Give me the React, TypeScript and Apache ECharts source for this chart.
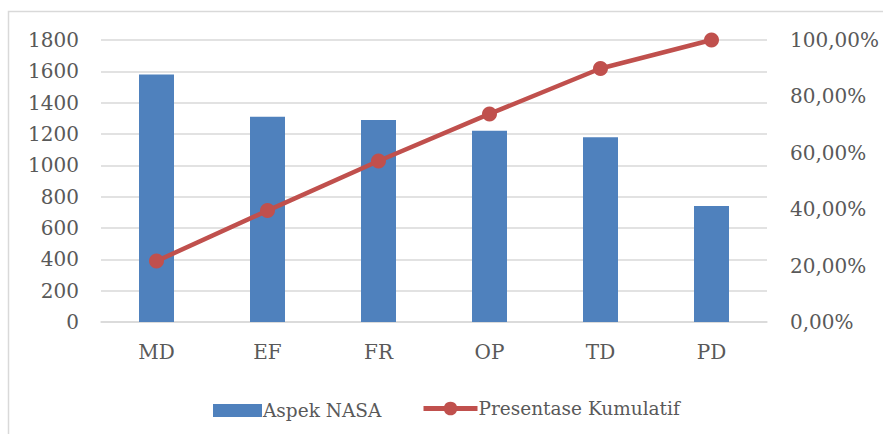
import React, { useEffect, useRef } from "react";
import * as echarts from "echarts";

const categories = ["MD", "EF", "FR", "OP", "TD", "PD"];
const aspekNasa = [1580, 1310, 1290, 1220, 1180, 740];
const presentaseKumulatif = [0.216, 0.395, 0.571, 0.738, 0.899, 1.0];
const leftTicks = { min: 0, max: 1800, interval: 200 };
const rightTicks = { min: 0, max: 1, interval: 0.2 };

const FONT = "DejaVu Serif";
const TEXT = "#595959";
const RED = "#C0504D";

export default function App() {
  const ref = useRef<HTMLDivElement>(null);
  useEffect(() => {
    if (!ref.current) return;
    const chart = echarts.init(ref.current, undefined, { renderer: "svg" });
    const legendText = { fontFamily: FONT, fontSize: 18.5, color: TEXT, padding: [0, 0, 0, -4] };
    chart.setOption({
      animation: false,
      backgroundColor: "#ffffff",
      textStyle: { fontFamily: FONT },
      graphic: [
        {
          type: "rect",
          shape: { x: 8.5, y: 11.5, width: 900, height: 500 },
          style: { fill: "none", stroke: "#D9D9D9", lineWidth: 1.5 },
          silent: true,
          z: -1,
        },
      ],
      grid: { left: 101, right: 116, top: 40, bottom: 112 },
      legend: [
        {
          left: 208,
          top: 396,
          itemWidth: 49,
          itemHeight: 13,
          textStyle: legendText,
          data: [{ name: "Aspek NASA", icon: "rect" }],
        },
        {
          left: 416,
          top: 394,
          itemWidth: 54,
          itemHeight: 17,
          textStyle: legendText,
          lineStyle: { width: 5, color: RED },
          data: [{ name: "Presentase Kumulatif" }],
        },
      ],
      xAxis: {
        type: "category",
        data: categories,
        axisTick: { show: false },
        axisLine: { lineStyle: { color: "#D9D9D9", width: 1.5 } },
        axisLabel: { color: TEXT, fontFamily: FONT, fontSize: 20, margin: 20 },
      },
      yAxis: [
        {
          type: "value",
          min: leftTicks.min,
          max: leftTicks.max,
          interval: leftTicks.interval,
          axisLine: { show: false },
          axisTick: { show: false },
          splitLine: { lineStyle: { color: "#D9D9D9", width: 1.5 } },
          axisLabel: {
            color: TEXT,
            fontFamily: FONT,
            fontSize: 20,
            margin: 22,
            formatter: (v: number) => String(v),
          },
        },
        {
          type: "value",
          min: rightTicks.min,
          max: rightTicks.max,
          interval: rightTicks.interval,
          position: "right",
          axisLine: { show: false },
          axisTick: { show: false },
          splitLine: { show: false },
          axisLabel: {
            color: TEXT,
            fontFamily: FONT,
            fontSize: 20,
            margin: 23,
            formatter: (v: number) => (v * 100).toFixed(2).replace(".", ",") + "%",
          },
        },
      ],
      series: [
        {
          name: "Aspek NASA",
          type: "bar",
          data: aspekNasa,
          barWidth: 35,
          itemStyle: { color: "#4F81BD" },
        },
        {
          name: "Presentase Kumulatif",
          type: "line",
          yAxisIndex: 1,
          data: presentaseKumulatif,
          symbol: "circle",
          symbolSize: 15,
          lineStyle: { color: RED, width: 4.5 },
          itemStyle: { color: RED },
        },
      ],
    });
    return () => chart.dispose();
  }, []);
  return (
    <div
      ref={ref}
      style={{ position: "fixed", left: 0, top: 0, width: 883, height: 434 }}
    />
  );
}
